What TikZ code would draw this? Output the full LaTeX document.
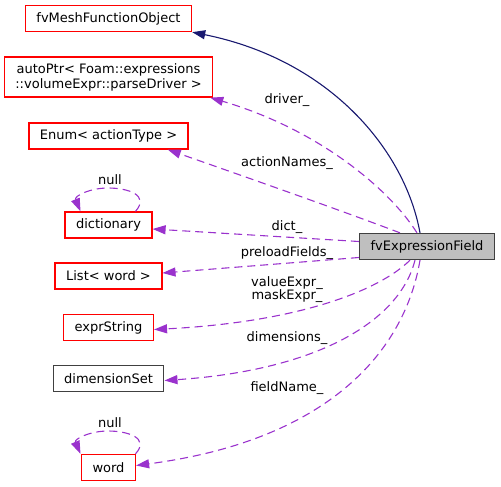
\documentclass[tikz,border=0pt]{standalone}
\usepackage{fontspec}
\setmainfont{DejaVu Sans}
\usetikzlibrary{arrows.meta}
\definecolor{memberpurple}{HTML}{9A32CD}
\definecolor{inheritblue}{HTML}{191970}
\definecolor{docred}{HTML}{FF0000}
\begin{document}
\begin{tikzpicture}[
    x=1pt, y=-1pt,
    font=\fontsize{13}{15}\selectfont,
    class/.style={rectangle,draw=docred,line width=1.3pt,inner xsep=11pt,minimum height=26pt},
    plainclass/.style={class,draw=black!75},
    current/.style={class,draw=black!75,fill=black!25},
    member/.style={draw=memberpurple,line width=1.1pt,dash pattern=on 8pt off 5pt,-{Triangle[length=13pt,width=9pt]}},
    inherit/.style={draw=inheritblue,line width=1.1pt,-{Triangle[length=13pt,width=9pt]}}
    ]
    \useasboundingbox (0,0) rectangle (501,487);

    \node (base) at (108.5, 18.5) [class] {fvMeshFunctionObject};
    \node (autoptr) at (108.5, 77) [class,align=center,minimum height=40pt] {autoPtr< Foam::expressions\\::volumeExpr::parseDriver >};
    \node (enum) at (108.5, 136) [class] {Enum< actionType >};
    \node (dict) at (108.5, 225) [class] {dictionary};
    \node (list) at (108.5, 276) [class] {List< word >};
    \node (expr) at (108.5, 327.5) [class] {exprString};
    \node (dimset) at (108.5, 378.5) [plainclass] {dimensionSet};
    \node (word) at (108.5, 467.5) [class] {word};
    \node (fvef) at (427, 246.5) [current] {fvExpressionField};

    \node (nulldict) at (110, 180) {null};
    \node (nullword) at (110, 423) {null};
    \node (ldriver) at (287, 100) {driver\_};
    \node (lactions) at (287, 163) {actionNames\_};
    \node (ldict) at (287, 227) {dict\_};
    \node (lpreload) at (287, 253) {preloadFields\_};
    \node (lexpr) at (287, 289.5) [align=center,font=\fontsize{13}{13.5}\selectfont] {valueExpr\_\\maskExpr\_};
    \node (ldims) at (287, 338) {dimensions\_};
    \node (lfield) at (287, 388) {fieldName\_};

    \draw [inherit] ([xshift=-7pt]fvef.north) .. controls (405,150) and (330,60) .. (base.south east);
    \draw [member] ([xshift=-10pt]fvef.north) .. controls (390,190) and (320,130) .. ([xshift=-3pt]autoptr.south east);
    \draw [member] ([xshift=-27pt]fvef.north) .. controls (340,210) and (240,175) .. ([xshift=-21pt]enum.south east);
    \draw [member] ([yshift=5pt]fvef.west) to ([yshift=-4pt]dict.east);
    \draw [member] ([yshift=-11pt]fvef.west) to ([yshift=3pt]list.east);
    \draw [member] ([xshift=-17pt]fvef.south) .. controls (380,290) and (300,322) .. ([yshift=-2pt]expr.east);
    \draw [member] ([xshift=-12pt]fvef.south) .. controls (400,320) and (320,370) .. ([yshift=-2pt]dimset.east);
    \draw [member] ([xshift=-7pt]fvef.south) .. controls (405,350) and (330,440) .. ([yshift=2pt]word.east);
    \draw [member] ([xshift=27pt]dict.north) .. controls (150,195) and (128,188) .. (108,188) .. controls (90,188) and (74,196) .. ([xshift=-28pt]dict.north);
    \draw [member] ([xshift=27pt]word.north) .. controls (150,438) and (128,431) .. (108,431) .. controls (90,431) and (74,439) .. ([xshift=-28pt]word.north);

  \end{tikzpicture}
\end{document}
